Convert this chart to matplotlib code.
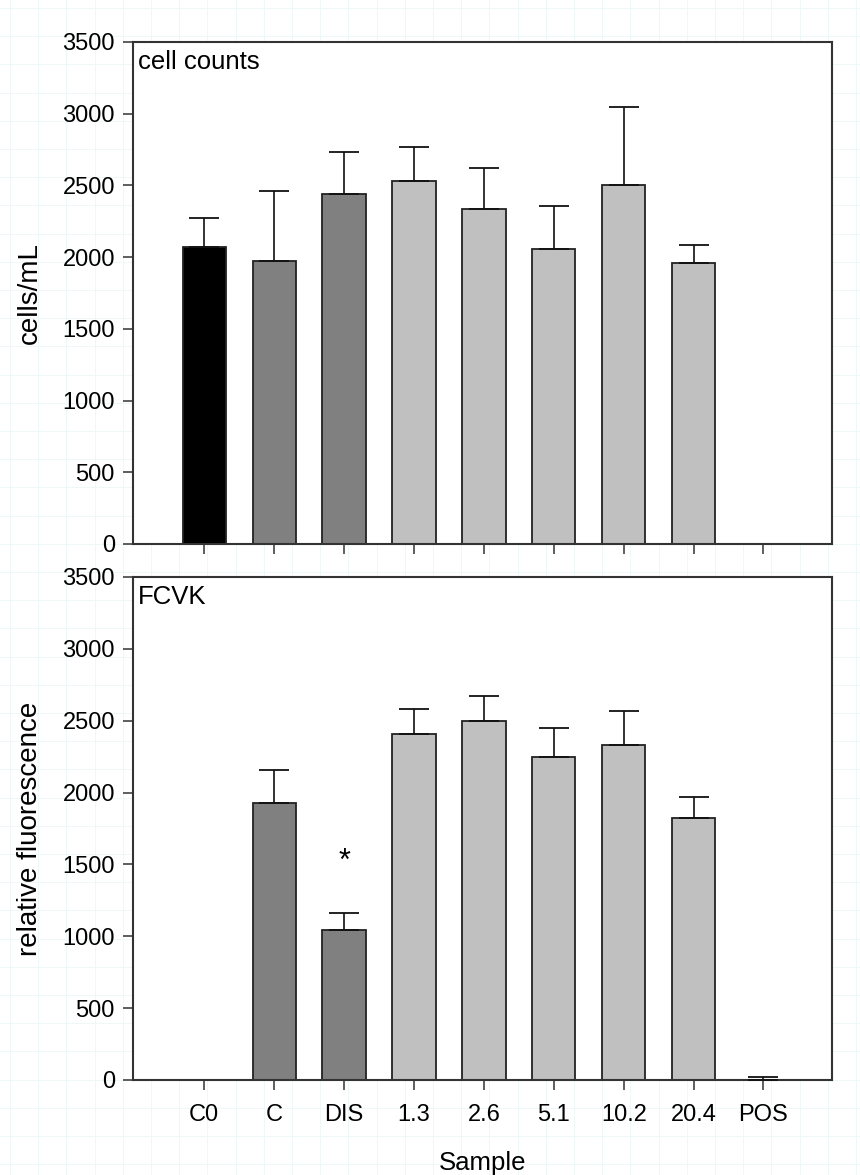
import numpy as np
import matplotlib
matplotlib.use("Agg")
import matplotlib.pyplot as plt
from matplotlib.lines import Line2D

plt.rcParams['font.family'] = ['Liberation Sans', 'DejaVu Sans']

samples = ["C0", "C", "DIS", "1.3", "2.6", "5.1", "10.2", "20.4", "POS"]
bar_colors = ["#000000", "#808080", "#808080", "#c0c0c0", "#c0c0c0",
              "#c0c0c0", "#c0c0c0", "#c0c0c0", "#c0c0c0"]

# cell counts (cells/mL): mean and upper error
counts_mean = [2070, 1975, 2440, 2530, 2335, 2060, 2505, 1960, 0]
counts_err = [205, 485, 295, 240, 290, 295, 540, 125, 0]

# FCVK relative fluorescence: mean and upper error
fcvk_mean = [0, 1925, 1045, 2405, 2495, 2245, 2330, 1825, 0]
fcvk_err = [0, 235, 120, 175, 180, 205, 240, 145, 20]

# significance marker over DIS
star_sample = "DIS"
star_level = 1520

W, H = 860, 1175
fig = plt.figure(figsize=(W / 100, H / 100), dpi=100)

# faint graph-paper background
for gx in np.arange(10, W, 28.2):
    fig.add_artist(Line2D([gx / W, gx / W], [0, 1], color="#f0f7f8",
                          lw=0.7, zorder=-10, transform=fig.transFigure))
for gy in np.arange(8, H, 28.2):
    fig.add_artist(Line2D([0, 1], [1 - gy / H, 1 - gy / H], color="#f0f7f8",
                          lw=0.7, zorder=-10, transform=fig.transFigure))

left, right = 133, 832
ax1 = fig.add_axes([left / W, 1 - 544 / H, (right - left) / W, (544 - 42) / H])
ax2 = fig.add_axes([left / W, 1 - 1080 / H, (right - left) / W, (1080 - 577) / H])

x = np.arange(len(samples))
fs_tick = 17


def draw_panel(ax, means, errs, title, ylabel, show_labels):
    ax.set_facecolor("white")
    ax.bar(x, means, width=0.62, color=bar_colors, edgecolor="#222222",
           linewidth=1.3, zorder=2)
    m = np.array(means, dtype=float)
    e = np.array(errs, dtype=float)
    mask = e > 0
    ax.errorbar(x[mask], m[mask], yerr=[np.zeros(mask.sum()), e[mask]],
                fmt="none", ecolor="#111111", elinewidth=1.2, capsize=10.5,
                capthick=1.3, zorder=3)
    ax.set_xlim(-1.02, 8.98)
    ax.set_ylim(0, 3500)
    ax.set_yticks(np.arange(0, 3501, 500))
    ax.set_xticks(x)
    if show_labels:
        ax.set_xticklabels(samples, fontsize=fs_tick)
    else:
        ax.set_xticklabels([])
    ax.tick_params(axis="both", direction="out", length=7, width=1.1,
                   colors="#333333", labelcolor="black", labelsize=fs_tick, pad=6)
    ax.tick_params(axis="x", pad=10)
    for s in ax.spines.values():
        s.set_linewidth(1.5)
        s.set_color("#333333")
    ax.text(0.007, 0.985, title, transform=ax.transAxes, ha="left", va="top",
            fontsize=18.5)
    ax.set_ylabel(ylabel, fontsize=20, labelpad=14)


draw_panel(ax1, counts_mean, counts_err, "cell counts", "cells/mL", False)
draw_panel(ax2, fcvk_mean, fcvk_err, "FCVK", "relative fluorescence", True)
ax2.set_xlabel("Sample", fontsize=18.5, labelpad=18)

ax2.text(samples.index(star_sample), star_level, "*", ha="center", va="center",
         fontsize=22)

fig.savefig("out.png", dpi=100)
